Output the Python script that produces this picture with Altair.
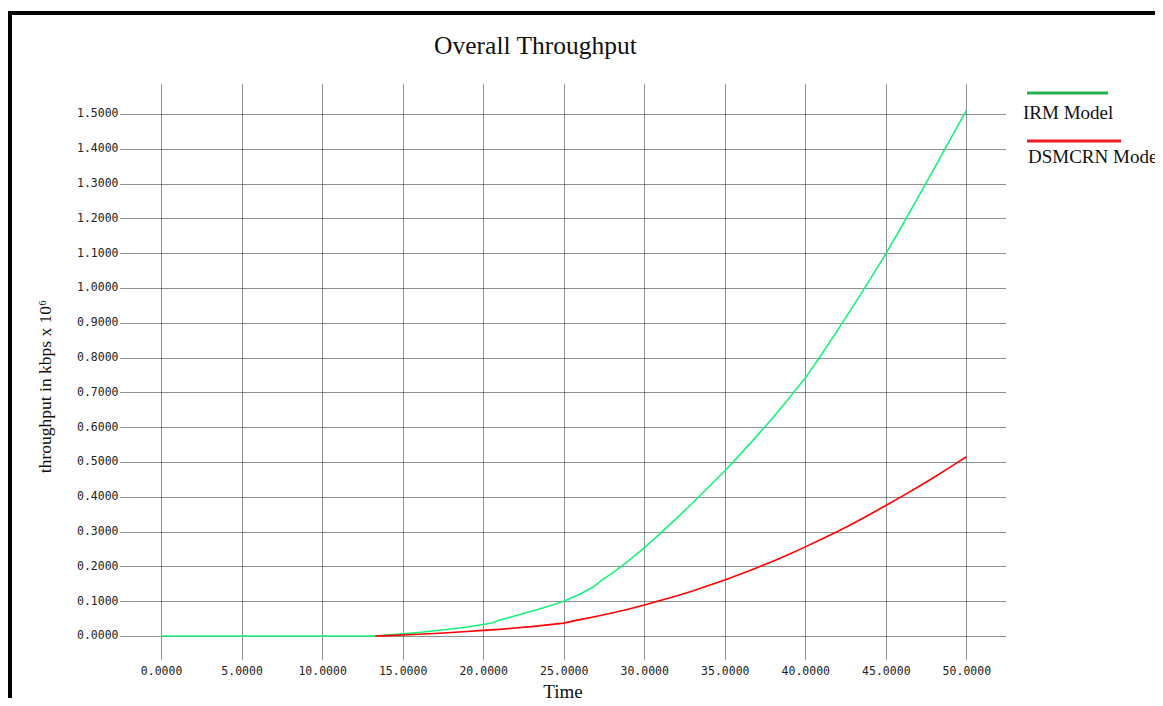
import altair as alt
import pandas as pd

# ---- data ----
irm_time = [0, 5, 10, 13.3, 14, 15, 16, 17, 18, 19, 20, 20.6, 21, 22, 23, 24, 25, 26, 26.8,
            27.5, 28, 29, 30, 31, 32, 33, 34, 35, 36, 37, 38, 39, 40, 41, 42, 43, 44, 45,
            46, 47, 48, 49, 50]
irm_tp = [0, 0, 0, 0, 0.003, 0.006, 0.010, 0.015, 0.020, 0.026, 0.033, 0.038, 0.045, 0.058,
          0.071, 0.085, 0.100, 0.120, 0.140, 0.165, 0.180, 0.215, 0.253, 0.295, 0.338, 0.382,
          0.428, 0.474, 0.524, 0.575, 0.628, 0.684, 0.741, 0.808, 0.878, 0.950, 1.023, 1.098,
          1.178, 1.260, 1.343, 1.427, 1.510]

dsm_time = [13.3, 14, 15, 16, 17, 18, 19, 20, 21, 22, 23, 24, 25, 26, 27, 28, 29, 30, 31, 32,
            33, 34, 35, 36, 37, 38, 39, 40, 41, 42, 43, 44, 45, 46, 47, 48, 49, 50]
dsm_tp = [0, 0.001, 0.003, 0.005, 0.007, 0.010, 0.013, 0.016, 0.019, 0.023, 0.027, 0.032,
          0.037, 0.047, 0.056, 0.066, 0.077, 0.089, 0.102, 0.115, 0.129, 0.145, 0.161, 0.178,
          0.196, 0.215, 0.235, 0.256, 0.278, 0.300, 0.324, 0.349, 0.375, 0.401, 0.428, 0.456,
          0.485, 0.515]

x_ticks = [0, 5, 10, 15, 20, 25, 30, 35, 40, 45, 50]
y_ticks = [0, 0.1, 0.2, 0.3, 0.4, 0.5, 0.6, 0.7, 0.8, 0.9, 1.0, 1.1, 1.2, 1.3, 1.4, 1.5]

chart_title = "Overall Throughput"
series_names = ["IRM Model", "DSMCRN Model"]
line_colors = ["#19f27a", "#ff0000"]
legend_colors = ["#22b14c", "#ed1c24"]

df = pd.concat([
    pd.DataFrame({"Time": irm_time, "tp": irm_tp, "series": series_names[0], "ord": 0}),
    pd.DataFrame({"Time": dsm_time, "tp": dsm_tp, "series": series_names[1], "ord": 1}),
], ignore_index=True)

W, H = 885, 576
MONO = "DejaVu Sans Mono"
SERIF = "Liberation Serif"

lines = alt.Chart(df).mark_line(strokeWidth=1.6).encode(
    x=alt.X("Time:Q", scale=alt.Scale(domain=[-2.55, 52.4], nice=False, zero=False),
            axis=alt.Axis(values=x_ticks, format=".4f", title="Time",
                          labelFont=MONO, labelFontSize=11.5, labelColor="#222",
                          labelPadding=5, labelOverlap=False, ticks=False, domain=False,
                          grid=True, gridDash=[1, 1], gridColor="#222", gridOpacity=1,
                          titleFont=SERIF, titleFontSize=19, titleFontWeight="normal",
                          titleColor="#111", titleY=37, titleBaseline="alphabetic")),
    y=alt.Y("tp:Q", scale=alt.Scale(domain=[-0.069, 1.586], nice=False, zero=False),
            axis=alt.Axis(values=y_ticks, format=".4f", title="throughput in kbps x 10⁶",
                          labelFont=MONO, labelFontSize=11.5, labelColor="#222",
                          labelPadding=2, labelOverlap=False, ticks=False, domain=False,
                          grid=True, gridDash=[1, 1], gridColor="#222", gridOpacity=1,
                          titleFont=SERIF, titleFontSize=17.5, titleFontWeight="normal",
                          titleColor="#111", titleX=-75, titleY=302,
                          titleAlign="center", titleBaseline="middle", titleAngle=-90)),
    color=alt.Color("series:N", scale=alt.Scale(domain=series_names, range=line_colors), legend=None),
    order=alt.Order("ord:Q"),
    detail="series:N",
)

# legend drawn by hand (lines above labels)
leg_df = pd.DataFrame({
    "name": series_names,
    "color": legend_colors,
    "x1": [907, 907], "x2": [988, 1001], "ly": [9, 57],
    "tx": [903, 908], "ty": [29, 73],
})
leg_lines = alt.Chart(leg_df).mark_rule(strokeWidth=3, clip=False).encode(
    x=alt.X("x1:Q", scale=None), x2="x2:Q", y=alt.Y("ly:Q", scale=None),
    color=alt.Color("color:N", scale=None))
leg_text = alt.Chart(leg_df).mark_text(align="left", baseline="middle", font=SERIF,
                                       fontSize=19, color="#111", clip=False).encode(
    x=alt.X("tx:Q", scale=None), y=alt.Y("ty:Q", scale=None), text="name:N")

# chart title
title_df = pd.DataFrame({"t": [chart_title]})
title_mark = alt.Chart(title_df).mark_text(align="center", baseline="alphabetic", font=SERIF,
                                           fontSize=25.5, color="#111", clip=False).encode(
    x=alt.value(415.5), y=alt.value(-30), text="t:N")

# outer frame (top and left thick black edges)
frame_top = alt.Chart(pd.DataFrame({"a": [0]})).mark_rule(color="#000", strokeWidth=4, clip=False).encode(
    x=alt.value(-112), x2=alt.value(1043), y=alt.value(-71))
frame_left = alt.Chart(pd.DataFrame({"a": [0]})).mark_rule(color="#000", strokeWidth=4, clip=False).encode(
    x=alt.value(-110), y=alt.value(-73), y2=alt.value(640))

chart = alt.layer(lines, leg_lines, leg_text, title_mark, frame_top, frame_left).properties(
    width=W, height=H,
    autosize=alt.AutoSizeParams(type="none"),
    padding={"left": 112, "top": 76, "right": 150, "bottom": 38},
).configure(background="white").configure_view(stroke=None, strokeWidth=0)

chart.save("out.html", embed_options={"renderer": "svg", "actions": False})
